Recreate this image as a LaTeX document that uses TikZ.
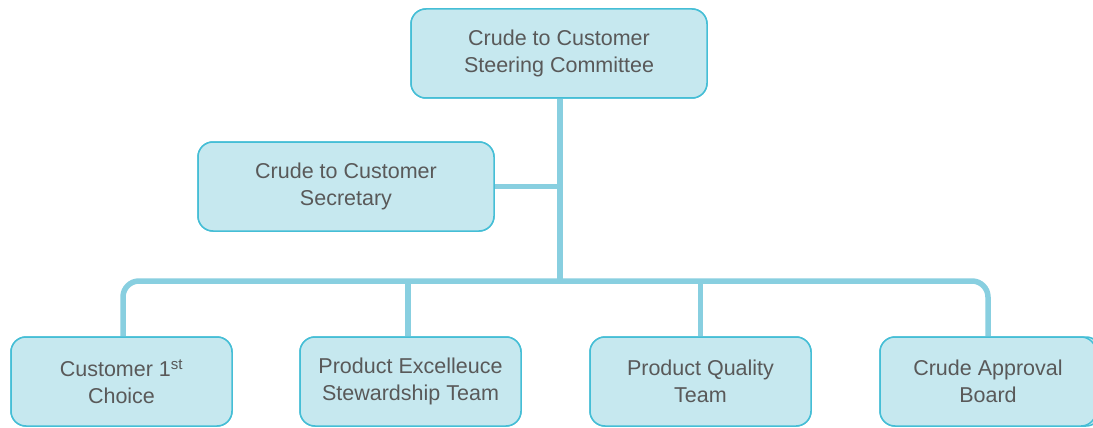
\documentclass[tikz,border=0pt]{standalone}
\usepackage{fontspec}
\setmainfont{Liberation Sans}
\definecolor{boxfill}{HTML}{C6E8EF}
\definecolor{boxline}{HTML}{45BED6}
\definecolor{connline}{HTML}{88CFE0}
\definecolor{txt}{HTML}{595959}
\tikzset{
  orgbox/.style={draw=boxline, line width=1.5pt, fill=boxfill, rounded corners=15pt,
    minimum width=296pt, minimum height=89pt, inner sep=0pt, align=center,
    text=txt, font=\fontsize{21.5}{27}\selectfont},
  smallbox/.style={orgbox, minimum width=221pt},
  conn/.style={draw=connline, line width=5.5pt}
}
\begin{document}
\begin{tikzpicture}[x=1pt,y=-1pt]
\clip (0,0) rectangle (1093,428);
\fill[white] (0,0) rectangle (1093,428);
\coordinate (bus) at (560,281);
% connectors first
\node[orgbox] (top) at (559,53.5) {\phantom{X}};
\node[orgbox] (sec) at (346,186.5) {\phantom{X}};
\node[smallbox] (b1) at (121.5,381.5) {\phantom{X}};
\node[smallbox] (b2) at (410.5,381.5) {\phantom{X}};
\node[smallbox] (b3) at (700.5,381.5) {\phantom{X}};
\node[smallbox] (b4) at (990.5,381.5) {\phantom{X}};
\draw[conn] (top.south -| bus) -- (bus);
\draw[conn] (sec.east) -- (sec.east -| bus);
\draw[conn, rounded corners=16pt] ([xshift=1.5pt]b1.north) -- ([xshift=1.5pt]b1.north |- bus) -- ([xshift=-2.5pt]b4.north |- bus) -- ([xshift=-2.5pt]b4.north);
\draw[conn] ([xshift=-2.5pt]b2.north) -- ([xshift=-2.5pt]b2.north |- bus);
\draw[conn] (b3.north) -- (b3.north |- bus);
% boxes on top
\node[orgbox] at (top) {Crude to Customer\\Steering Committee};
\node[orgbox] at (sec) {Crude to Customer\\Secretary};
\node[smallbox] at (b1) {Customer 1\textsuperscript{st}\\Choice};
\node[smallbox] at (b2) {Product Excelleuce\\Stewardship Team};
\node[smallbox] at (b3) {Product Quality\\Team};
\node[smallbox] at ([xshift=-2.5pt]b4.center) [minimum width=216pt] {Crude Approval\\Board};
\end{tikzpicture}
\end{document}
